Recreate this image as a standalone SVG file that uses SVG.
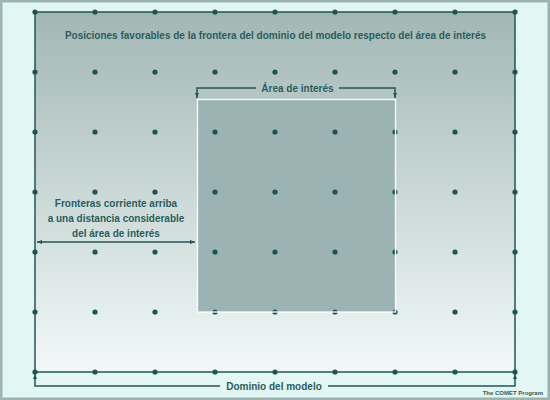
<svg xmlns="http://www.w3.org/2000/svg" width="550" height="400" viewBox="0 0 550 400">
<defs>
<linearGradient id="dg" x1="0" y1="0" x2="0" y2="1">
<stop offset="0" stop-color="#a2b7b4"/>
<stop offset="1" stop-color="#f1f9f8"/>
</linearGradient>
<marker id="ah" viewBox="0 0 10 10" refX="10" refY="5" markerWidth="5" markerHeight="5" orient="auto-start-reverse" markerUnits="userSpaceOnUse">
<path d="M0,1 L10,5 L0,9 Z" fill="#245656"/>
</marker>
<style>
.ln{fill:none;stroke:#245656;stroke-width:1.5}
.dot{fill:#1f5353}
.t{font-family:"Liberation Sans",Arial,sans-serif;font-weight:bold;fill:#2b5d5d;text-anchor:middle;font-size:10px}
</style>
</defs>
<rect x="1" y="1" width="548" height="398" fill="#e2f6f3" stroke="#9bb3b3" stroke-width="3"/>
<g id="dominio">
<rect x="35" y="12" width="480" height="360" fill="url(#dg)" stroke="#245656" stroke-width="1.5"/>
</g>
<g id="area">
<rect x="197" y="99" width="198" height="213" fill="#9bb3b3"/>
</g>
<g id="dots" class="dot">
<circle cx="35" cy="12" r="2.6"/><circle cx="95" cy="12" r="2.6"/><circle cx="155" cy="12" r="2.6"/><circle cx="215" cy="12" r="2.6"/><circle cx="275" cy="12" r="2.6"/><circle cx="335" cy="12" r="2.6"/><circle cx="395" cy="12" r="2.6"/><circle cx="455" cy="12" r="2.6"/><circle cx="515" cy="12" r="2.6"/>
<circle cx="35" cy="72" r="2.6"/><circle cx="95" cy="72" r="2.6"/><circle cx="155" cy="72" r="2.6"/><circle cx="215" cy="72" r="2.6"/><circle cx="275" cy="72" r="2.6"/><circle cx="335" cy="72" r="2.6"/><circle cx="395" cy="72" r="2.6"/><circle cx="455" cy="72" r="2.6"/><circle cx="515" cy="72" r="2.6"/>
<circle cx="35" cy="132" r="2.6"/><circle cx="95" cy="132" r="2.6"/><circle cx="155" cy="132" r="2.6"/><circle cx="215" cy="132" r="2.6"/><circle cx="275" cy="132" r="2.6"/><circle cx="335" cy="132" r="2.6"/><circle cx="395" cy="132" r="2.6"/><circle cx="455" cy="132" r="2.6"/><circle cx="515" cy="132" r="2.6"/>
<circle cx="35" cy="192" r="2.6"/><circle cx="95" cy="192" r="2.6"/><circle cx="155" cy="192" r="2.6"/><circle cx="215" cy="192" r="2.6"/><circle cx="275" cy="192" r="2.6"/><circle cx="335" cy="192" r="2.6"/><circle cx="395" cy="192" r="2.6"/><circle cx="455" cy="192" r="2.6"/><circle cx="515" cy="192" r="2.6"/>
<circle cx="35" cy="252" r="2.6"/><circle cx="95" cy="252" r="2.6"/><circle cx="155" cy="252" r="2.6"/><circle cx="215" cy="252" r="2.6"/><circle cx="275" cy="252" r="2.6"/><circle cx="335" cy="252" r="2.6"/><circle cx="395" cy="252" r="2.6"/><circle cx="455" cy="252" r="2.6"/><circle cx="515" cy="252" r="2.6"/>
<circle cx="35" cy="312" r="2.6"/><circle cx="95" cy="312" r="2.6"/><circle cx="155" cy="312" r="2.6"/><circle cx="215" cy="312" r="2.6"/><circle cx="275" cy="312" r="2.6"/><circle cx="335" cy="312" r="2.6"/><circle cx="395" cy="312" r="2.6"/><circle cx="455" cy="312" r="2.6"/><circle cx="515" cy="312" r="2.6"/>
<circle cx="35" cy="372" r="2.6"/><circle cx="95" cy="372" r="2.6"/><circle cx="155" cy="372" r="2.6"/><circle cx="215" cy="372" r="2.6"/><circle cx="275" cy="372" r="2.6"/><circle cx="335" cy="372" r="2.6"/><circle cx="395" cy="372" r="2.6"/><circle cx="455" cy="372" r="2.6"/><circle cx="515" cy="372" r="2.6"/>
</g>
<rect x="197.5" y="99.5" width="198" height="212.5" fill="none" stroke="#ffffff" stroke-width="1.3"/>
<g id="connectors">
<path class="ln" d="M256,88 H197 V98" marker-end="url(#ah)"/>
<path class="ln" d="M339,88 H395 V98" marker-end="url(#ah)"/>
<path class="ln" d="M37,242 H195" marker-start="url(#ah)" marker-end="url(#ah)" stroke-width="1.2"/>
<path class="ln" d="M220,386 H35 V374" marker-end="url(#ah)"/>
<path class="ln" d="M328,386 H515 V374" marker-end="url(#ah)"/>
</g>
<g id="labels">
<text class="t" x="275.5" y="39">Posiciones favorables de la frontera del dominio del modelo respecto del área de interés</text>
<text class="t" x="297.5" y="92">Área de interés</text>
<text class="t" x="116" y="207">Fronteras corriente arriba</text>
<text class="t" x="116" y="222">a una distancia considerable</text>
<text class="t" x="116" y="237">del área de interés</text>
<text class="t" x="274" y="390">Dominio del modelo</text>
<text class="t" x="543" y="395" style="text-anchor:end;font-size:6px">The COMET Program</text>
</g>
</svg>
